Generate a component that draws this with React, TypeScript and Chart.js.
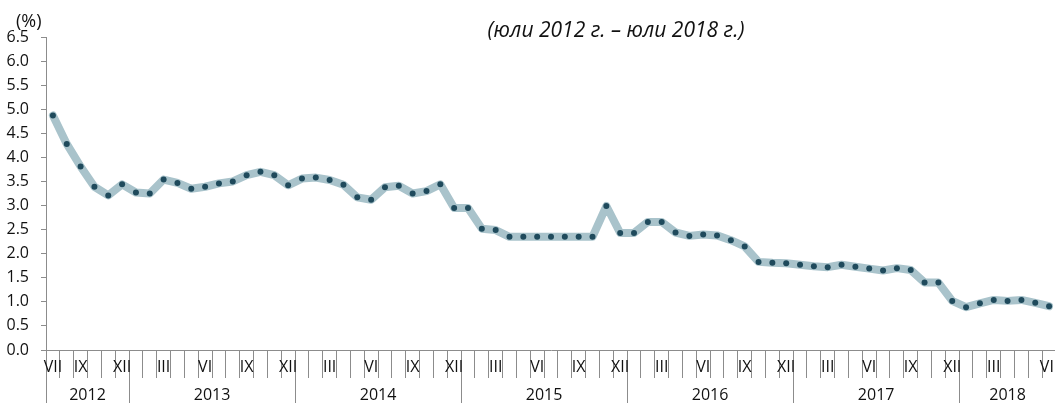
import React, { useEffect, useRef } from "react";
import { Chart, registerables } from "chart.js";

Chart.register(...registerables);

const TITLE = "(юли 2012 г. – юли 2018 г.)";
const UNIT = "(%)";

const monthTickLabels = [
  "VII", "", "IX", "", "", "XII",
  "", "", "III", "", "", "VI", "", "", "IX", "", "", "XII",
  "", "", "III", "", "", "VI", "", "", "IX", "", "", "XII",
  "", "", "III", "", "", "VI", "", "", "IX", "", "", "XII",
  "", "", "III", "", "", "VI", "", "", "IX", "", "", "XII",
  "", "", "III", "", "", "VI", "", "", "IX", "", "", "XII",
  "", "", "III", "", "", "", "VII",
];

const years = ["2012", "2013", "2014", "2015", "2016", "2017", "2018"];
const monthsPerYear = [6, 12, 12, 12, 12, 12, 7];

const rates = [
  4.87, 4.28, 3.81, 3.39, 3.21, 3.44,
  3.27, 3.25, 3.54, 3.47, 3.35, 3.39, 3.46, 3.5, 3.63, 3.7, 3.63, 3.42,
  3.56, 3.58, 3.53, 3.43, 3.17, 3.12, 3.38, 3.41, 3.25, 3.3, 3.44, 2.95,
  2.95, 2.52, 2.49, 2.35, 2.35, 2.35, 2.35, 2.35, 2.35, 2.35, 2.99, 2.43,
  2.43, 2.66, 2.66, 2.44, 2.37, 2.4, 2.38, 2.28, 2.15, 1.83, 1.81, 1.8,
  1.77, 1.74, 1.72, 1.77, 1.73, 1.69, 1.65, 1.7, 1.66, 1.4, 1.4, 1.02,
  0.89, 0.97, 1.04, 1.02, 1.04, 0.98, 0.91,
];

const Y_MIN = 0;
const Y_MAX = 6.5;
const Y_STEP = 0.5;

const AXIS_GRAY = "#8c8c8c";
const TEXT = "#111111";
const LINE_COLOR = "#a9c3cb";
const POINT_COLOR = "#1f4a5c";
const FONT = '"Open Sans", "Noto Sans", sans-serif';

// year axis ticks: boundaries (no label) and midpoints (labelled)
const yearTicks: { value: number; label: string; boundary: boolean }[] = [];
(() => {
  let start = -0.5;
  yearTicks.push({ value: start, label: "", boundary: true });
  years.forEach((y, i) => {
    const end = start + monthsPerYear[i];
    yearTicks.push({ value: (start + end) / 2, label: y, boundary: false });
    yearTicks.push({ value: end, label: "", boundary: true });
    start = end;
  });
})();

const textPlugin = {
  id: "extraTexts",
  afterDraw(chart: any) {
    const ctx = chart.ctx;
    ctx.save();
    ctx.fillStyle = TEXT;
    ctx.textBaseline = "middle";
    ctx.font = `italic 21px ${FONT}`;
    ctx.textAlign = "center";
    ctx.fillText(TITLE, 616, 31);
    ctx.font = `18px ${FONT}`;
    ctx.textAlign = "left";
    ctx.fillText(UNIT, 16, 22);
    ctx.restore();
  },
};

export default function App() {
  const ref = useRef<HTMLCanvasElement | null>(null);

  useEffect(() => {
    if (!ref.current) return;
    Chart.defaults.font.family = FONT;
    Chart.defaults.font.size = 16;
    Chart.defaults.color = TEXT;

    const chart = new Chart(ref.current, {
      type: "line",
      data: {
        labels: monthTickLabels,
        datasets: [
          {
            data: rates,
            borderColor: LINE_COLOR,
            borderWidth: 8,
            borderJoinStyle: "round",
            borderCapStyle: "round",
            tension: 0,
            pointRadius: 3,
            pointBorderWidth: 0,
            pointBackgroundColor: POINT_COLOR,
            pointHoverRadius: 3,
            fill: false,
            xAxisID: "x",
            yAxisID: "y",
          },
        ],
      },
      options: {
        animation: false,
        responsive: false,
        maintainAspectRatio: false,
        devicePixelRatio: 1,
        layout: { padding: { top: 37, left: 0, right: 0, bottom: 0 } },
        plugins: {
          legend: { display: false },
          tooltip: { enabled: false },
          title: { display: false },
        },
        scales: {
          x: {
            type: "category",
            position: "bottom",
            weight: 0,
            offset: true,
            grid: {
              offset: true,
              drawOnChartArea: false,
              drawTicks: true,
              tickLength: 28,
              color: AXIS_GRAY,
              lineWidth: 1,
            },
            border: { display: true, color: AXIS_GRAY, width: 1 },
            ticks: {
              autoSkip: false,
              maxRotation: 0,
              minRotation: 0,
              padding: -20.6,
              color: TEXT,
              font: { size: 16, family: FONT },
              callback: (_v: any, i: number) => monthTickLabels[i],
            },
            afterFit: (s: any) => {
              s.height = 28;
            },
          },
          x2: {
            type: "linear",
            position: "bottom",
            weight: 1,
            min: -0.5,
            max: 72.5,
            afterBuildTicks: (s: any) => {
              s.ticks = yearTicks.map((t) => ({ value: t.value }));
            },
            grid: {
              drawOnChartArea: false,
              drawTicks: true,
              tickLength: 25,
              lineWidth: 1,
              color: (c: any) => {
                const t = yearTicks[c.index];
                return t && t.boundary ? AXIS_GRAY : "rgba(0,0,0,0)";
              },
            },
            border: { display: false },
            ticks: {
              autoSkip: false,
              maxRotation: 0,
              minRotation: 0,
              padding: -17.6,
              color: TEXT,
              font: { size: 16, family: FONT },
              callback: (_v: any, i: number) => (yearTicks[i] ? yearTicks[i].label : ""),
            },
            afterFit: (s: any) => {
              s.height = 25;
            },
          },
          y: {
            type: "linear",
            position: "left",
            min: Y_MIN,
            max: Y_MAX,
            grid: {
              drawOnChartArea: false,
              drawTicks: true,
              tickLength: 5,
              color: AXIS_GRAY,
            },
            border: { display: true, color: AXIS_GRAY, width: 1 },
            ticks: {
              stepSize: Y_STEP,
              padding: 12,
              color: TEXT,
              font: { size: 16, family: FONT },
              callback: (v: any) => Number(v).toFixed(1),
            },
            afterFit: (s: any) => {
              s.width = 46;
            },
          },
        },
      },
      plugins: [textPlugin],
    } as any);

    return () => chart.destroy();
  }, []);

  return (
    <div
      style={{
        position: "absolute",
        left: 0,
        top: 0,
        width: 1055,
        height: 403,
        overflow: "hidden",
        background: "#ffffff",
      }}
    >
      <canvas ref={ref} width={1059} height={403} style={{ display: "block" }} />
    </div>
  );
}
